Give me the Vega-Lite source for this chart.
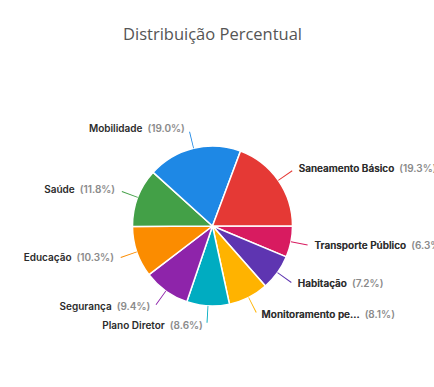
{
  "$schema": "https://vega.github.io/schema/vega-lite/v6.json",
  "autosize": {"type": "none"},
  "width": 425,
  "height": 320,
  "padding": {"left": 0, "top": 66, "right": 9, "bottom": 1},
  "background": "white",
  "view": {"stroke": null},
  "title": {
    "text": "Distribuição Percentual",
    "anchor": "middle",
    "font": "Open Sans",
    "fontSize": 16.5,
    "fontWeight": 500,
    "color": "#555555",
    "offset": 23
  },
  "data": {
    "values": [
      {"cat": "Transporte Público", "value": 6.3, "ord": 1},
      {"cat": "Habitação", "value": 7.2, "ord": 2},
      {"cat": "Monitoramento pe...", "value": 8.1, "ord": 3},
      {"cat": "Plano Diretor", "value": 8.6, "ord": 4},
      {"cat": "Segurança", "value": 9.4, "ord": 5},
      {"cat": "Educação", "value": 10.3, "ord": 6},
      {"cat": "Saúde", "value": 11.8, "ord": 7},
      {"cat": "Mobilidade", "value": 19.0, "ord": 8},
      {"cat": "Saneamento Básico", "value": 19.3, "ord": 9}
    ]
  },
  "transform": [
    {"stack": "value", "groupby": [], "sort": [{"field": "ord"}], "as": ["start", "end"]},
    {"calculate": "(datum.start + datum.end) / 2", "as": "mid"},
    {"calculate": "datum.mid - 0.08", "as": "l0"},
    {"calculate": "datum.mid + 0.08", "as": "l1"},
    {"calculate": "'(' + format(datum.value, '.1f') + '%)'", "as": "pct"},
    {"calculate": "datum.cat + '\u00a0\u00a0' + datum.pct", "as": "full"},
    {"calculate": "datum.mid < 25 || datum.mid > 75 ? 'R' : 'L'", "as": "side"}
  ],
  "encoding": {
    "color": {
      "field": "cat",
      "type": "nominal",
      "legend": null,
      "scale": {
        "domain": ["Transporte Público", "Habitação", "Monitoramento pe...", "Plano Diretor", "Segurança", "Educação", "Saúde", "Mobilidade", "Saneamento Básico"],
        "range": ["#D81B60", "#5E35B1", "#FFB300", "#00ACC1", "#8E24AA", "#FB8C00", "#43A047", "#1E88E5", "#E53935"]
      }
    }
  },
  "layer": [
    {
      "mark": {"type": "arc", "outerRadius": 80, "stroke": "white", "strokeWidth": 1.5},
      "encoding": {
        "theta": {"field": "start", "type": "quantitative", "scale": {"domain": [0, 100], "range": [1.5708, 7.854]}},
        "theta2": {"field": "end"}
      }
    },
    {
      "mark": {"type": "arc", "innerRadius": 80, "outerRadius": 97},
      "encoding": {
        "theta": {"field": "l0", "type": "quantitative"},
        "theta2": {"field": "l1"}
      }
    },
    {
      "transform": [{"filter": "datum.side == 'R'"}],
      "mark": {"type": "text", "radius": 100, "align": "left", "baseline": "middle", "dx": 4, "font": "Inter", "fontSize": 10, "fontWeight": 600},
      "encoding": {
        "theta": {"field": "mid", "type": "quantitative"},
        "text": {"field": "full"},
        "color": {"value": "#8a8a8a"}
      }
    },
    {
      "transform": [{"filter": "datum.side == 'R'"}],
      "mark": {"type": "text", "radius": 100, "align": "left", "baseline": "middle", "dx": 4, "font": "Inter", "fontSize": 10, "fontWeight": 600},
      "encoding": {
        "theta": {"field": "mid", "type": "quantitative"},
        "text": {"field": "cat"},
        "color": {"value": "#2b2b2b"}
      }
    },
    {
      "transform": [{"filter": "datum.side == 'L'"}],
      "mark": {"type": "text", "radius": 100, "align": "right", "baseline": "middle", "dx": -4, "font": "Inter", "fontSize": 10, "fontWeight": 600},
      "encoding": {
        "theta": {"field": "mid", "type": "quantitative"},
        "text": {"field": "full"},
        "color": {"value": "#2b2b2b"}
      }
    },
    {
      "transform": [{"filter": "datum.side == 'L'"}],
      "mark": {"type": "text", "radius": 100, "align": "right", "baseline": "middle", "dx": -4, "font": "Inter", "fontSize": 10, "fontWeight": 600, "stroke": "white", "strokeWidth": 1.5},
      "encoding": {
        "theta": {"field": "mid", "type": "quantitative"},
        "text": {"field": "pct"},
        "color": {"value": "white"}
      }
    },
    {
      "transform": [{"filter": "datum.side == 'L'"}],
      "mark": {"type": "text", "radius": 100, "align": "right", "baseline": "middle", "dx": -4, "font": "Inter", "fontSize": 10, "fontWeight": 600},
      "encoding": {
        "theta": {"field": "mid", "type": "quantitative"},
        "text": {"field": "pct"},
        "color": {"value": "#8a8a8a"}
      }
    }
  ]
}
